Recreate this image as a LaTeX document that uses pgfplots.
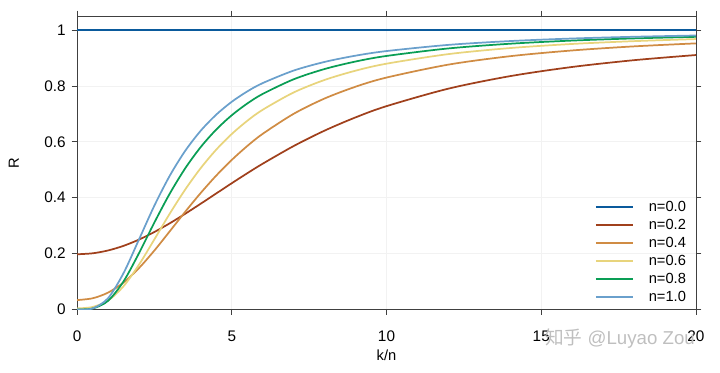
\documentclass[border=0pt]{standalone}
\usepackage{pgfplots}
\pgfplotsset{compat=1.18}
\usepackage{fontspec}
\setmainfont{Liberation Sans}
\newfontfamily\cjk{Noto Sans CJK SC}
\definecolor{c0}{HTML}{0A5A9C}
\definecolor{c2}{HTML}{A0401C}
\definecolor{c4}{HTML}{D08C44}
\definecolor{c6}{HTML}{E8D47C}
\definecolor{c8}{HTML}{0A9E55}
\definecolor{c10}{HTML}{6AA0CC}
\definecolor{axc}{HTML}{404040}
\begin{document}
\begin{tikzpicture}
\begin{axis}[
  scale only axis,
  width=464pt, height=220pt,
  xmin=0, xmax=20, ymin=0, ymax=1.05,
  xtick={0,5,10,15,20},
  ytick={0,0.2,0.4,0.6,0.8,1},
  yticklabels={0,0.2,0.4,0.6,0.8,1},
  tick align=outside,
  tick pos=both,
  xticklabel pos=left, yticklabel pos=left,
  major tick length=4pt,
  every tick/.style={axc, line width=0.5pt},
  axis line style={axc, line width=0.6pt},
  grid=major,
  major grid style={black!5, line width=0.5pt},
  ticklabel style={font=\fontsize{11.5}{13}\selectfont},
  xticklabel style={yshift=-8.5pt},
  yticklabel style={xshift=-1pt},
  /pgf/number format/assume math mode=true,
  xlabel={k/n}, ylabel={R},
  label style={font=\fontsize{11}{13}\selectfont},
  xlabel style={at={(axis description cs:0.5,-0.157)}, anchor=center},
  ylabel style={at={(axis description cs:-0.102,0.5)}, anchor=center},
  legend style={draw=none, fill=none, at={(0.995,0.002)}, anchor=south east,
    font=\fontsize{11}{13}\selectfont, row sep=0.3pt,
    /tikz/every odd column/.append style={column sep=9pt}},
  legend cell align=left,
  legend image code/.code={\draw[#1, line width=1.3pt] (0pt,0pt) -- (28pt,0pt);},
]
\addplot[c0, line width=1.3pt] coordinates {(0,1) (20,1)};
\addlegendentry{n=0.0}
\addplot[c2, line width=1.3pt, smooth] coordinates {
(0,0.1975) (0.5,0.2010) (1,0.2111) (1.5,0.2276) (2,0.25) (2.5,0.2773) (3,0.3086) (3.5,0.3428) (4,0.3787) (4.5,0.4153) (5,0.4518) (5.5,0.4874) (6,0.5216) (7,0.5848) (8,0.64) (9,0.6873) (10,0.7275) (12,0.7901) (14,0.8350) (16,0.8677) (18,0.8920) (20,0.9104)};
\addlegendentry{n=0.2}
\addplot[c4, line width=1.3pt, smooth] coordinates {
(0,0.0337) (0.5,0.04) (1,0.0602) (1.5,0.0963) (2,0.1479) (2.5,0.2111) (3,0.2803) (3.5,0.3503) (4,0.4173) (4.5,0.4793) (5,0.5352) (5.5,0.5848) (6,0.6285) (7,0.7001) (8,0.7549) (9,0.7970) (10,0.8298) (12,0.8761) (14,0.9063) (16,0.9268) (18,0.9414) (20,0.9521)};
\addlegendentry{n=0.4}
\addplot[c6, line width=1.3pt, smooth] coordinates {
(0,0.0039) (0.5,0.0089) (1,0.0317) (1.5,0.0829) (2,0.16) (2.5,0.2510) (3,0.3436) (3.5,0.4299) (4,0.5063) (4.5,0.5721) (5,0.6279) (5.5,0.6750) (6,0.7146) (7,0.7765) (8,0.8213) (9,0.8544) (10,0.8794) (12,0.9137) (14,0.9354) (16,0.9500) (18,0.9601) (20,0.9675)};
\addlegendentry{n=0.6}
\addplot[c8, line width=1.3pt, smooth] coordinates {
(0,0.0002) (0.5,0.0035) (1,0.0307) (1.5,0.1000) (2,0.2010) (2.5,0.3114) (3,0.4153) (3.5,0.5058) (4,0.5816) (4.5,0.6440) (5,0.6950) (5.5,0.7369) (6,0.7713) (7,0.8236) (8,0.8604) (9,0.8872) (10,0.9071) (12,0.9340) (14,0.9509) (16,0.9621) (18,0.9699) (20,0.9755)};
\addlegendentry{n=0.8}
\addplot[c10, line width=1.3pt, smooth] coordinates {
(0,0) (0.5,0.0035) (1,0.04) (1.5,0.1296) (2,0.25) (2.5,0.3718) (3,0.4793) (3.5,0.5683) (4,0.64) (4.5,0.6973) (5,0.7432) (5.5,0.7801) (6,0.81) (7,0.8548) (8,0.8858) (9,0.9081) (10,0.9246) (12,0.9467) (14,0.9604) (16,0.9695) (18,0.9757) (20,0.9803)};
\addlegendentry{n=1.0}
\end{axis}
\node[text=black!25, font=\fontsize{14}{16}\selectfont, anchor=center] at ([xshift=-57pt,yshift=-22pt]current axis.south east) {{\cjk 知乎} @Luyao Zou};
\path ([xshift=-57.75pt,yshift=-47.25pt]current axis.south west) rectangle ([xshift=18pt,yshift=12pt]current axis.north east);
\end{tikzpicture}
\end{document}
